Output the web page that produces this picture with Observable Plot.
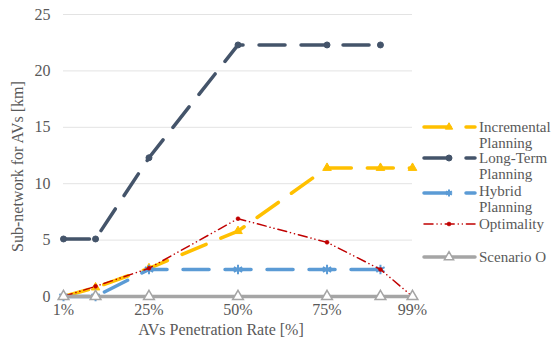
<!DOCTYPE html>
<html><head><meta charset="utf-8">
<script src="https://cdn.jsdelivr.net/npm/d3@7"></script>
<script src="https://cdn.jsdelivr.net/npm/@observablehq/plot@0.6"></script>
<style>
body{margin:0;background:#fff;}
#wrap{position:relative;width:553px;height:340px;overflow:hidden;}
#legend{position:absolute;left:0;top:0;}
svg text{font-family:"Liberation Serif","DejaVu Serif",serif !important;}
</style></head><body><div id="wrap"></div>
<script>
// ---- data ----
const rates = [1, 10, 25, 50, 75, 90, 99];
const incremental = [0, 0.8, 2.5, 5.8, 11.4, 11.4, 11.4];
const longTerm = [5.1, 5.1, 12.3, 22.3, 22.3, 22.3, null];
const hybrid = [0, 0, 2.4, 2.4, 2.4, 2.4, null];
const optimality = [0, 0.9, 2.5, 6.9, 4.8, 2.4, 0];
const scenarioO = [0, 0, 0, 0, 0, 0, 0];
const xTicks = [1, 25, 50, 75, 99];
const yTicks = [0, 5, 10, 15, 20, 25];
const legendLines = [["Incremental", "Planning"], ["Long-Term", "Planning"], ["Hybrid", "Planning"], ["Optimality"], ["Scenario O"]];
const xTitle = "AVs Penetration Rate [%]";
const yTitle = "Sub-network for AVs [km]";

// ---- styles ----
const styles = [
  {values: incremental, color: "#FFC000", width: 3.5, dash: "26,16", symbol: "triangle", r: 3.2, fill: "#FFC000", stroke: "#FFC000", sw: 1, ly: 127},
  {values: longTerm, color: "#44546A", width: 3.5, dash: "26,16", symbol: "circle", r: 3, fill: "#44546A", stroke: "#44546A", sw: 1, ly: 158},
  {values: hybrid, color: "#5B9BD5", width: 3.5, dash: "26,16", symbol: "asterisk", r: 4.5, fill: "none", stroke: "#5B9BD5", sw: 2, ly: 193},
  {values: optimality, color: "#C00000", width: 1.5, dash: "9,4,0.1,4,0.1,4", symbol: "circle", r: 2, fill: "#C00000", stroke: "#C00000", sw: 0.5, ly: 224},
  {values: scenarioO, color: "#A5A5A5", width: 3.5, dash: null, symbol: "triangle", r: 4, fill: "#ffffff", stroke: "#A5A5A5", sw: 1.5, ly: 257}
];
const font = "Liberation Serif, DejaVu Serif, serif";
const textColor = "#595959";

const marks = [
  Plot.gridY(yTicks, {stroke: "#e3e3e3", strokeOpacity: 1, strokeWidth: 1}),
  Plot.axisY(yTicks, {tickSize: 0, tickPadding: 13, fontSize: 16, label: null, fill: textColor}),
  Plot.axisX(xTicks, {tickSize: 0, tickPadding: 7, fontSize: 16, label: null, tickFormat: d => d + "%", fill: textColor}),
  Plot.text([xTitle], {text: d => d, frameAnchor: "bottom", dx: -17, dy: 33, lineAnchor: "middle", fontSize: 16, fill: textColor}),
  Plot.text([yTitle], {text: d => d, frameAnchor: "left", rotate: -90, dx: -45.5, dy: 11, lineAnchor: "middle", textAnchor: "middle", fontSize: 16, fill: textColor})
];
for (const s of styles) {
  const rows = rates.map((x, i) => ({x, y: s.values[i]})).filter(d => d.y != null);
  marks.push(Plot.line(rows, {x: "x", y: "y", stroke: s.color, strokeWidth: s.width, strokeDasharray: s.dash || undefined, strokeLinecap: "round", strokeLinejoin: "round"}));
  marks.push(Plot.dot(rows, {x: "x", y: "y", symbol: s.symbol, r: s.r, fill: s.fill, stroke: s.stroke, strokeWidth: s.sw}));
}

const plot = Plot.plot({
  width: 553, height: 340,
  marginLeft: 63, marginRight: 141, marginTop: 14, marginBottom: 44,
  style: {fontFamily: font, fontSize: "16px", color: textColor, background: "#fff", overflow: "visible"},
  x: {type: "linear", domain: [1, 99]},
  y: {domain: [0, 25]},
  marks
});
document.getElementById("wrap").appendChild(plot);

// ---- legend ----
const lg = d3.select("#wrap").append("svg").attr("id", "legend").attr("width", 553).attr("height", 340);
styles.forEach((s, i) => {
  const g = lg.append("g");
  g.append("line").attr("x1", 424).attr("x2", 475).attr("y1", s.ly).attr("y2", s.ly)
    .attr("stroke", s.color).attr("stroke-width", s.width).attr("stroke-linecap", "round")
    .attr("stroke-dasharray", s.dash);
  const sym = {triangle: d3.symbolTriangle, circle: d3.symbolCircle, asterisk: d3.symbolAsterisk}[s.symbol];
  const area = s.symbol === "circle" ? Math.PI * s.r * s.r : (s.symbol === "triangle" ? s.r * s.r * 2.3 : s.r * s.r * 1.6);
  g.append("path").attr("d", d3.symbol(sym, area)()).attr("transform", `translate(449,${s.ly})`)
    .attr("fill", s.fill).attr("stroke", s.stroke).attr("stroke-width", s.sw);
  legendLines[i].forEach((t, j) => {
    g.append("text").attr("x", 479).attr("y", s.ly + j * 15.5 + (s.symbol === "asterisk" ? -2 : 0)).attr("dy", "0.35em")
      .attr("font-size", 15).attr("fill", textColor).text(t);
  });
});
</script></body></html>
